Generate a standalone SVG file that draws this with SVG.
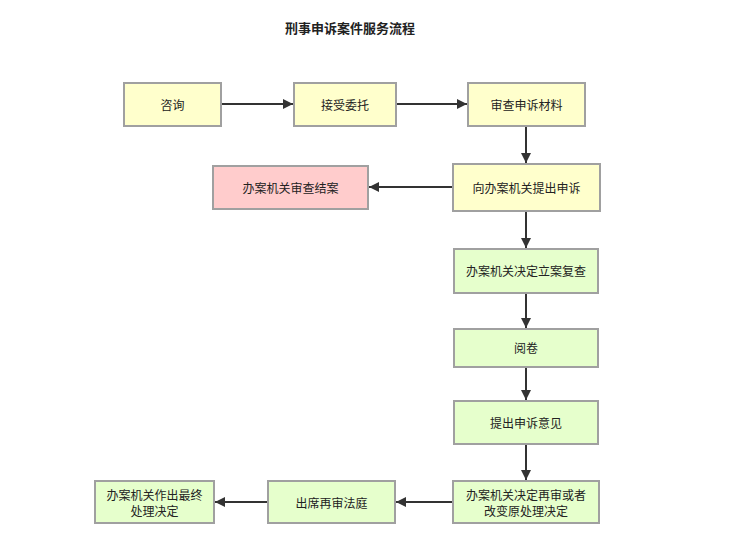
<svg xmlns="http://www.w3.org/2000/svg" width="733" height="550" viewBox="0 0 733 550">
<style>
.n rect{stroke:#a0a0a0;stroke-width:2}
.y rect{fill:#ffffcc}
.g rect{fill:#e6ffcc}
.p rect{fill:#ffcccc}
text{font-family:"Liberation Sans","Noto Sans CJK SC",sans-serif;font-size:12px;fill:#222;text-anchor:middle}
.t{font-size:13px;font-weight:bold}
.c line{stroke:#333;stroke-width:2;marker-end:url(#a)}
</style>
<defs>
<marker id="a" viewBox="0 0 10 10" refX="10" refY="5" markerWidth="6" markerHeight="5" orient="auto" markerUnits="strokeWidth">
<path d="M0,0 L10,5 L0,10 z" fill="#333"/>
</marker>
</defs>
<rect width="733" height="550" fill="#fff"/>
<text class="t" x="350" y="33">刑事申诉案件服务流程</text>
<g class="c">
<line x1="222" y1="104" x2="293" y2="104"/>
<line x1="397" y1="104" x2="467" y2="104"/>
<line x1="526" y1="127" x2="526" y2="163"/>
<line x1="452" y1="187" x2="369" y2="187"/>
<line x1="526" y1="212" x2="526" y2="248"/>
<line x1="526" y1="294" x2="526" y2="328"/>
<line x1="526" y1="368" x2="526" y2="400"/>
<line x1="526" y1="445" x2="526" y2="480"/>
<line x1="453" y1="502" x2="396" y2="502"/>
<line x1="267" y1="502" x2="215" y2="502"/>
</g>
<g id="n1" class="n y"><rect x="124" y="83" width="97" height="43"/><text x="172.5" y="110">咨询</text></g>
<g id="n2" class="n y"><rect x="294" y="83" width="102" height="43"/><text x="345" y="110">接受委托</text></g>
<g id="n3" class="n y"><rect x="468" y="83" width="117" height="43"/><text x="526.5" y="110">审查申诉材料</text></g>
<g id="n4" class="n y"><rect x="453" y="164" width="147" height="47"/><text x="526.5" y="193">向办案机关提出申诉</text></g>
<g id="n5" class="n p"><rect x="213" y="166" width="155" height="43"/><text x="290.5" y="193">办案机关审查结案</text></g>
<g id="n6" class="n g"><rect x="454" y="249" width="144" height="44"/><text x="526" y="276">办案机关决定立案复查</text></g>
<g id="n7" class="n g"><rect x="454" y="329" width="144" height="38"/><text x="526" y="353">阅卷</text></g>
<g id="n8" class="n g"><rect x="454" y="401" width="144" height="43"/><text x="526" y="428">提出申诉意见</text></g>
<g id="n9" class="n g"><rect x="453" y="481" width="146" height="42"/><text x="526" y="500">办案机关决定再审或者</text><text x="526" y="516">改变原处理决定</text></g>
<g id="n10" class="n g"><rect x="268" y="481" width="127" height="42"/><text x="331.5" y="508">出席再审法庭</text></g>
<g id="n11" class="n g"><rect x="95" y="481" width="119" height="42"/><text x="154.5" y="500">办案机关作出最终</text><text x="154.5" y="516">处理决定</text></g>
</svg>
